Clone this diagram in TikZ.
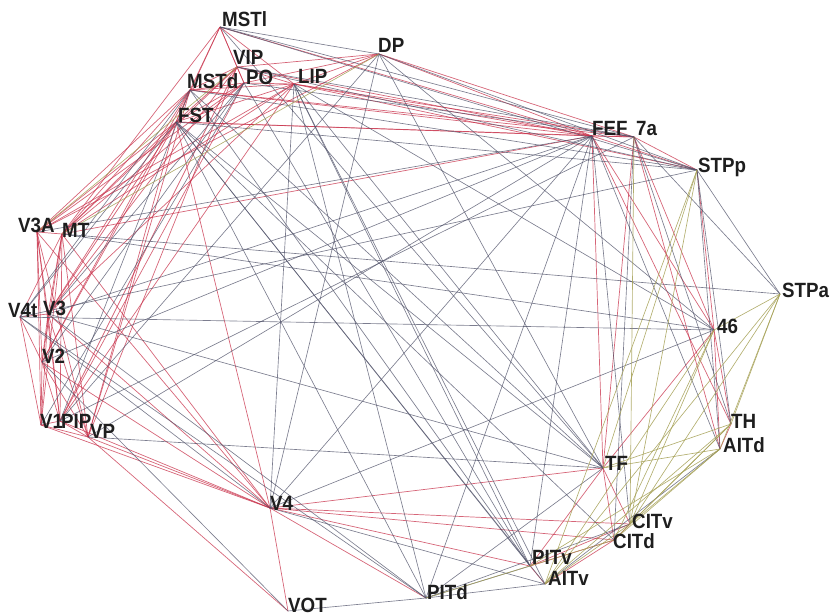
\documentclass[tikz,border=0pt]{standalone}
\usepackage{fontspec}
\setmainfont{Liberation Sans}
\definecolor{edgered}{RGB}{200,50,75}
\definecolor{edgegray}{RGB}{80,82,105}
\definecolor{edgeolive}{RGB}{165,160,85}
\definecolor{labelink}{RGB}{30,30,30}
\tikzset{
  area/.style={anchor=base west,inner sep=0pt,text=labelink,font=\fontsize{16}{16}\selectfont\bfseries},
  redlink/.style={draw=edgered,line width=0.6pt,opacity=0.75},
  graylink/.style={draw=edgegray,line width=0.55pt,opacity=0.75},
  olivelink/.style={draw=edgeolive,line width=0.55pt,opacity=0.85}
}
\begin{document}
\begin{tikzpicture}[x=0.03cm,y=-0.03cm]
\useasboundingbox (0,0) rectangle (834,616);
\foreach \n/\x/\y in {V1/41/425,PIP/60/421,VP/88/437,V2/42/362,V3/48/314,V4t/20/317,
  V3A/37/232,MT/62/234,MSTd/190/90,FST/176/122,MSTl/220/27,VIP/237/67,PO/244/83,
  LIP/294/84,DP/379/54,FEF/592/136,A7a/634/137,STPp/697/170,STPa/780/294,A46/714/330,
  TH/731/424,AITd/720/449,TF/603/468,CITv/630/524,CITd/614/540,PITv/530/566,
  AITv/545/584,PITd/426/598,VOT/288/611,V4/270/508}
  \coordinate (\n) at (\x,\y);
% connections
\foreach \a/\b in {V1/V2,V1/V3,V1/V3A,V1/V4,V1/MT,V1/PIP,V1/VP,V1/V4t,
  V2/V3,V2/V3A,V2/V4,V2/MT,V2/PIP,V2/VP,V2/V4t,V2/MSTd,V2/FST,
  V3/V3A,V3/V4,V3/MT,V3/PIP,V3/VP,V3/V4t,V3/FST,V3/MSTd,V3/LIP,V3/VIP,
  VP/V3A,VP/V4,VP/MT,VP/PIP,VP/FST,VP/MSTd,VP/VIP,VP/VOT,
  V3A/MT,V3A/PIP,V3A/PO,V3A/LIP,V3A/MSTd,V3A/FST,V3A/DP,V3A/V4,
  MT/V4,MT/V4t,MT/PIP,MT/PO,MT/MSTd,MT/MSTl,MT/FST,MT/VIP,MT/LIP,MT/FEF,
  PIP/PO,PIP/VIP,PIP/LIP,PIP/V4,
  V4/FST,V4/TF,V4/PITd,V4/PITv,V4/CITd,V4/CITv,V4/VOT,
  MSTl/MSTd,MSTl/FST,MSTl/VIP,MSTl/LIP,MSTl/PO,MSTl/FEF,
  MSTd/FST,MSTd/VIP,MSTd/LIP,MSTd/PO,MSTd/FEF,MSTd/A7a,
  FST/FEF,FST/LIP,FST/VIP,FST/A7a,FST/PO,
  VIP/LIP,VIP/PO,VIP/DP,VIP/FEF,PO/LIP,PO/DP,
  LIP/DP,LIP/FEF,LIP/A7a,LIP/STPp,DP/FEF,DP/A7a,
  FEF/A7a,FEF/STPp,FEF/A46,FEF/TF,FEF/TH,
  A7a/STPp,A7a/A46,A7a/TF,A7a/AITd,STPp/A46,
  A46/TH,A46/AITd,A46/TF,TF/CITd,TF/PITv,TF/CITv,
  CITd/PITv,CITd/CITv,CITv/PITv,AITv/PITv,CITd/AITv,TH/AITd}
  \draw[redlink] (\a) -- (\b);
\foreach \a/\b in {MT/STPa,V4t/A46,V3A/FEF,V2/FEF,V3/FEF,VP/FEF,
  FST/PITv,FST/PITd,FST/TF,FST/AITv,FST/CITd,FST/STPp,
  MSTd/PITv,MSTd/TF,MSTd/STPp,LIP/PITv,LIP/AITv,LIP/PITd,LIP/TF,LIP/A46,
  PO/PITv,PO/A7a,MSTl/TF,MSTl/STPp,MSTl/DP,MSTl/A7a,
  DP/STPp,DP/A46,DP/TF,VIP/A7a,VIP/STPp,
  V4/LIP,V4/DP,V4/FEF,V4/AITv,V4/A46,V3/TF,VP/TF,
  FEF/PITv,FEF/PITd,FEF/CITv,FEF/AITd,
  A7a/STPa,A7a/TH,A7a/CITd,STPp/STPa,STPp/AITd,STPp/TH,
  V1/PO,V2/PO,V3/PO,V4t/PITd,V4t/MSTd,V4t/STPp,V4t/V4,V4t/FST,
  VOT/PITd,VOT/V2,PITd/PITv,PITd/AITv,PITd/CITv,PITd/TF,
  MT/A46,V3/PITd,PIP/DP,PIP/A7a,PIP/MSTd,AITd/AITv}
  \draw[graylink] (\a) -- (\b);
\foreach \a/\b in {STPp/CITv,STPp/TF,STPp/AITv,STPa/A46,STPa/TH,STPa/AITd,
  STPa/CITv,STPa/AITv,A46/CITv,A46/CITd,A46/AITv,TH/TF,TH/CITv,TH/CITd,
  TH/AITv,AITd/TF,AITd/CITv,AITd/CITd,AITd/PITv,V3A/VIP,MT/DP,
  CITv/AITv,CITd/PITd,A7a/CITv}
  \draw[olivelink] (\a) -- (\b);
% area names
\foreach \n/\t/\x/\y in {MSTl/MSTl/222/26,VIP/VIP/233/64,MSTd/MSTd/187/88,PO/PO/246/84,
  LIP/LIP/298/83,DP/DP/378/53,FST/FST/178/122,FEF/FEF/592/135,A7a/7a/636/135,
  STPp/STPp/698/172,STPa/STPa/782/297,A46/46/717/333,TH/TH/731/428,AITd/AITd/723/452,
  TF/TF/605/470,CITv/CITv/632/528,CITd/CITd/613/548,PITv/PITv/532/564,AITv/AITv/548/585,
  PITd/PITd/427/599,VOT/VOT/288/612,V4/V4/270/510,V3A/V3A/18/232,MT/MT/62/237,
  V4t/V4t/8/317,V3/V3/43/315,V2/V2/42/363,V1/V1/40/428,PIP/PIP/61/428,VP/VP/90/438}
  \node[area] (\n-l) at (\x,\y) {\scalebox{1}[1.1]{\t}};
\end{tikzpicture}
\end{document}
